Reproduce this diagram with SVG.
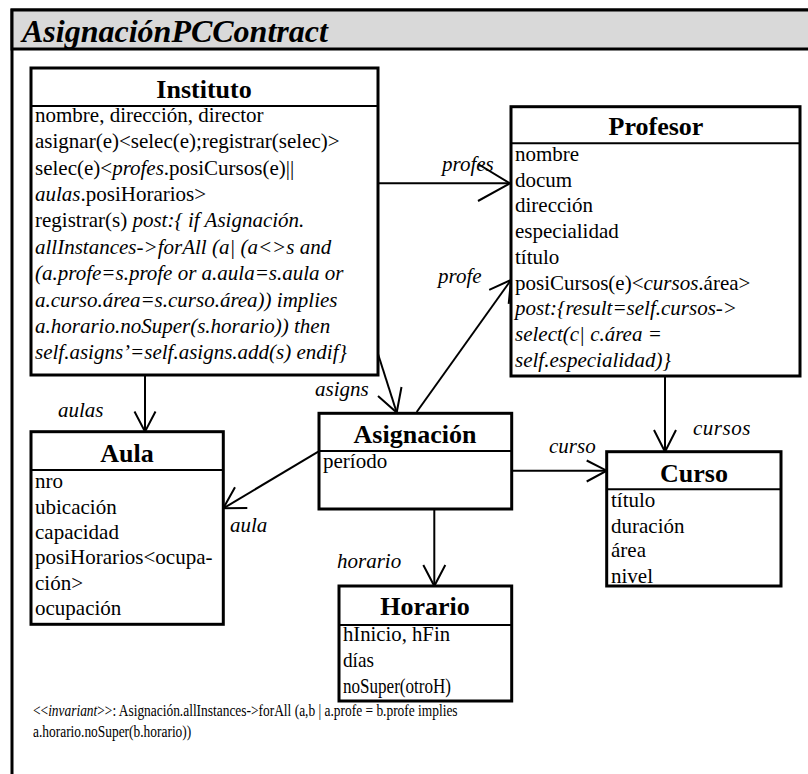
<svg xmlns="http://www.w3.org/2000/svg" width="808" height="774" viewBox="0 0 808 774" font-family="Liberation Serif, Times New Roman, serif">
<style>
.frame{fill:#fff;stroke:#000;stroke-width:3}
.band{fill:#d9d9d9;stroke:#000;stroke-width:3}
.box{fill:#fff;stroke:#000;stroke-width:3}
.sep{stroke:#000;stroke-width:2}
.t{font-size:21px;fill:#000}
.h{font-size:26px;font-weight:bold;text-anchor:middle;fill:#000}
.i{font-style:italic}
.lbl{font-size:21px;font-style:italic;fill:#000}
.title{font-size:32px;font-weight:bold;font-style:italic;fill:#000}
.ln{fill:none;stroke:#000;stroke-width:2}
.inv{font-size:17px;fill:#000}
</style>
<g id="frame">
<rect class="frame" x="12" y="10" width="820" height="800"/>
<rect class="band" x="12" y="10" width="820" height="39"/>
<text class="title" x="22" y="42">AsignaciónPCContract</text>
</g>
<g id="connectors">
<line class="ln" x1="378" y1="183.3" x2="510" y2="183.3"/>
<polyline class="ln" points="478,164 510,183.3 478,201"/>
<line class="ln" x1="416.7" y1="412" x2="511" y2="280"/>
<polyline class="ln" points="489.2,289.9 511,280 508.7,303.9"/>
<line class="ln" x1="377.7" y1="353" x2="396.7" y2="412.5"/>
<polyline class="ln" points="378,396 396.7,412.5 401.5,387"/>
<line class="ln" x1="145" y1="375" x2="145" y2="431.7"/>
<polyline class="ln" points="134.5,411.5 145,431.7 155.5,411.5"/>
<line class="ln" x1="318.3" y1="451.7" x2="223.3" y2="508.3"/>
<polyline class="ln" points="235,487.3 223.3,508.3 247.3,508"/>
<line class="ln" x1="434.3" y1="509" x2="434.3" y2="586"/>
<polyline class="ln" points="423.3,565 434.3,586 445.3,565"/>
<line class="ln" x1="511.7" y1="470.7" x2="606.7" y2="470.7"/>
<polyline class="ln" points="586.7,460.5 606.7,470.7 586.7,481.5"/>
<line class="ln" x1="665" y1="376" x2="665" y2="451.7"/>
<polyline class="ln" points="654,430 665,451.7 676,430"/>
<text class="lbl" x="442" y="171">profes</text>
<text class="lbl" x="438" y="283">profe</text>
<text class="lbl" x="315" y="396">asigns</text>
<text class="lbl" x="58" y="416.7">aulas</text>
<text class="lbl" x="230" y="531.7">aula</text>
<text class="lbl" x="337" y="568.3">horario</text>
<text class="lbl" x="549" y="453.3">curso</text>
<text class="lbl" x="693" y="435" letter-spacing="0.5">cursos</text>
</g>
<g id="Instituto">
<rect class="box" x="31" y="68" width="347" height="307"/>
<line class="sep" x1="31" y1="106" x2="378" y2="106"/>
<text class="h" x="204" y="98">Instituto</text>
<text class="t" x="35" y="121.7">nombre, dirección, director</text>
<text class="t" x="35" y="148">asignar(e)&lt;selec(e);registrar(selec)&gt;</text>
<text class="t" x="35" y="174.5">selec(e)&lt;<tspan class="i">profes</tspan>.posiCursos(e)||</text>
<text class="t" x="35" y="201"><tspan class="i">aulas</tspan>.posiHorarios&gt;</text>
<text class="t" x="35" y="227">registrar(s) <tspan class="i">post:{ if Asignación.</tspan></text>
<text class="t i" x="35" y="253.5">allInstances-&gt;forAll (a| (a&lt;&gt;s and</text>
<text class="t i" x="35" y="280">(a.profe=s.profe or  a.aula=s.aula or</text>
<text class="t i" x="35" y="306.5">a.curso.área=s.curso.área)) implies</text>
<text class="t i" x="35" y="333">a.horario.noSuper(s.horario)) then</text>
<text class="t i" x="35" y="359">self.asigns’=self.asigns.add(s) endif}</text>
</g>
<g id="Profesor">
<rect class="box" x="511" y="106.7" width="289" height="269.3"/>
<line class="sep" x1="511" y1="143.3" x2="800" y2="143.3"/>
<text class="h" x="656" y="135">Profesor</text>
<text class="t" x="515" y="161">nombre</text>
<text class="t" x="515" y="186.7">docum</text>
<text class="t" x="515" y="212.4">dirección</text>
<text class="t" x="515" y="238">especialidad</text>
<text class="t" x="515" y="263.7">título</text>
<text class="t" x="515" y="289.5">posiCursos(e)&lt;<tspan class="i">cursos</tspan>.área&gt;</text>
<text class="t i" x="515" y="315.2">post:{result=self.cursos-&gt;</text>
<text class="t i" x="515" y="340.9">select(c| c.área =</text>
<text class="t i" x="515" y="366.6">self.especialidad)}</text>
</g>
<g id="Aula">
<rect class="box" x="31" y="431.7" width="192.3" height="192.6"/>
<line class="sep" x1="31" y1="470" x2="223.3" y2="470"/>
<text class="h" x="127" y="461.7">Aula</text>
<text class="t" x="35" y="488.3">nro</text>
<text class="t" x="35" y="513.6">ubicación</text>
<text class="t" x="35" y="538.9">capacidad</text>
<text class="t" x="35" y="564.2">posiHorarios&lt;ocupa-</text>
<text class="t" x="35" y="589.5">ción&gt;</text>
<text class="t" x="35" y="614.8">ocupación</text>
</g>
<g id="Asignacion">
<rect class="box" x="319" y="413.3" width="192.7" height="95.7"/>
<line class="sep" x1="319" y1="451" x2="511.7" y2="451"/>
<text class="h" x="415" y="443.3">Asignación</text>
<text class="t" x="323" y="468.3">período</text>
</g>
<g id="Horario">
<rect class="box" x="339" y="586" width="172.7" height="115"/>
<line class="sep" x1="339" y1="625" x2="511.7" y2="625"/>
<text class="h" x="425" y="615">Horario</text>
<text class="t" x="343" y="640.7" textLength="107" lengthAdjust="spacingAndGlyphs">hInicio, hFin</text>
<text class="t" x="343" y="666.7" textLength="31" lengthAdjust="spacingAndGlyphs">días</text>
<text class="t" x="343" y="692.7" textLength="108" lengthAdjust="spacingAndGlyphs">noSuper(otroH)</text>
</g>
<g id="Curso">
<rect class="box" x="606.7" y="451.7" width="174.3" height="134.3"/>
<line class="sep" x1="606.7" y1="489.3" x2="781" y2="489.3"/>
<text class="h" x="694" y="481.7">Curso</text>
<text class="t" x="611" y="506.7">título</text>
<text class="t" x="611" y="532.7">duración</text>
<text class="t" x="611" y="556.7">área</text>
<text class="t" x="611" y="582.7">nivel</text>
</g>
<g id="invariant">
<text class="inv" transform="translate(33,715.5) scale(0.79,1)">&lt;&lt;<tspan class="i">invariant</tspan>&gt;&gt;: Asignación.allInstances-&gt;forAll (a,b | a.profe = b.profe implies</text>
<text class="inv" transform="translate(33,737) scale(0.79,1)">a.horario.noSuper(b.horario))</text>
</g>
</svg>
